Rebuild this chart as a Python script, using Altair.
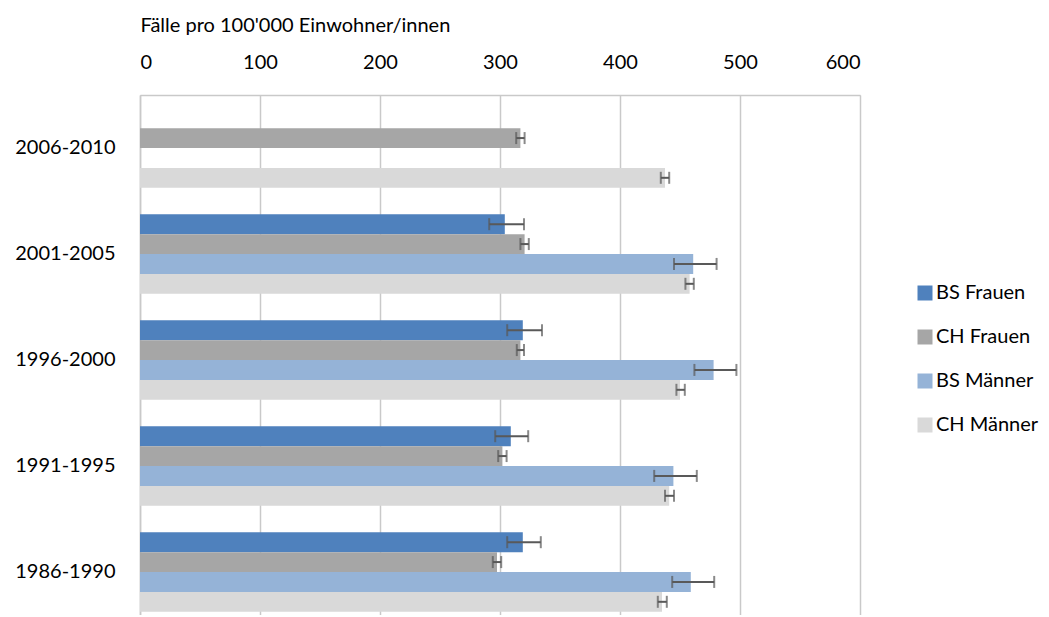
import altair as alt
import pandas as pd

periods = ["2006-2010", "2001-2005", "1996-2000", "1991-1995", "1986-1990"]
series = ["BS Frauen", "CH Frauen", "BS Männer", "CH Männer"]
colors = ["#4f81bd", "#a6a6a6", "#95b3d7", "#d9d9d9"]

# values per period (same order as periods); None = no data
bs_frauen = [None, 304, 319, 309, 319]
bs_frauen_lo = [None, 291, 306, 296, 306]
bs_frauen_hi = [None, 320, 335, 323.5, 334]

ch_frauen = [317, 320.5, 317, 302, 297.5]
ch_frauen_lo = [313.5, 317, 314, 298.5, 294]
ch_frauen_hi = [320.5, 324, 320, 305.5, 301]

bs_maenner = [None, 461, 478, 444.5, 459]
bs_maenner_lo = [None, 445, 462, 428.5, 443.5]
bs_maenner_hi = [None, 480.5, 497, 464, 478.5]

ch_maenner = [437.5, 458, 450, 441, 435]
ch_maenner_lo = [434, 454.5, 447, 437.5, 431.5]
ch_maenner_hi = [441, 461.5, 454, 445, 439]

ticks_x = [0, 100, 200, 300, 400, 500, 600]

rows = []
for name, vals, los, his in [
    ("BS Frauen", bs_frauen, bs_frauen_lo, bs_frauen_hi),
    ("CH Frauen", ch_frauen, ch_frauen_lo, ch_frauen_hi),
    ("BS Männer", bs_maenner, bs_maenner_lo, bs_maenner_hi),
    ("CH Männer", ch_maenner, ch_maenner_lo, ch_maenner_hi),
]:
    for p, v, lo, hi in zip(periods, vals, los, his):
        if v is None:
            continue
        rows.append({"period": p, "series": name, "value": v, "lo": lo, "hi": hi})
df = pd.DataFrame(rows)

FONT = "Lato"
GRID = "#c9c9c9"

y_enc = alt.Y(
    "period:N",
    sort=periods,
    scale=alt.Scale(range=[0, 530], paddingInner=0.25, paddingOuter=0.125),
    axis=alt.Axis(title=None, ticks=False, tickSize=0, labelPadding=25,
                  labelFontSize=20, labelFont=FONT, labelColor="#000000",
                  domainColor=GRID, domainWidth=1.5, grid=False),
)
yoff = alt.YOffset("series:N", scale=alt.Scale(domain=series))

x_enc = alt.X(
    "value:Q",
    scale=alt.Scale(domain=[0, 600], nice=False),
    axis=alt.Axis(orient="top", values=ticks_x, ticks=False, tickSize=0,
                  labelPadding=33, labelBaseline="middle",
                  labelFontSize=20, labelFont=FONT, labelColor="#000000",
                  domainColor=GRID, domainWidth=1.5,
                  grid=True, gridColor=GRID, gridWidth=1.5,
                  title="Fälle pro 100'000 Einwohner/innen",
                  titleFont=FONT, titleFontSize=20, titleFontWeight="normal",
                  titleColor="#000000", titleAlign="left", titleBaseline="middle",
                  titleX=0, titleY=-70, titleAngle=0),
)

bars = alt.Chart(df).mark_bar().encode(
    x=x_enc,
    y=y_enc,
    yOffset=yoff,
    color=alt.Color("series:N", scale=alt.Scale(domain=series, range=colors),
                    legend=alt.Legend(title=None, orient="none", legendX=775, legendY=188,
                                      direction="vertical", symbolType="square",
                                      symbolSize=225, symbolStrokeWidth=0,
                                      labelFontSize=20, labelFont=FONT,
                                      labelColor="#000000", rowPadding=24,
                                      labelOffset=1, padding=0)),
)

err_rule = alt.Chart(df).mark_rule(color="#595959", strokeWidth=2).encode(
    x="lo:Q", x2="hi:Q", y=alt.Y("period:N", sort=periods), yOffset=yoff,
)
cap_lo = alt.Chart(df).mark_tick(color="#595959", thickness=2, size=12).encode(
    x="lo:Q", y=alt.Y("period:N", sort=periods), yOffset=yoff,
)
cap_hi = alt.Chart(df).mark_tick(color="#595959", thickness=2, size=12).encode(
    x="hi:Q", y=alt.Y("period:N", sort=periods), yOffset=yoff,
)

chart = alt.layer(bars, err_rule, cap_lo, cap_hi).properties(
    width=720, height=520,
    autosize=alt.AutoSizeParams(type="none"),
    padding={"left": 132, "top": 87, "right": 181, "bottom": 0},
).configure_view(stroke=None).configure(font=FONT)

chart.save("out.html", embed_options={"renderer": "svg", "actions": False})
